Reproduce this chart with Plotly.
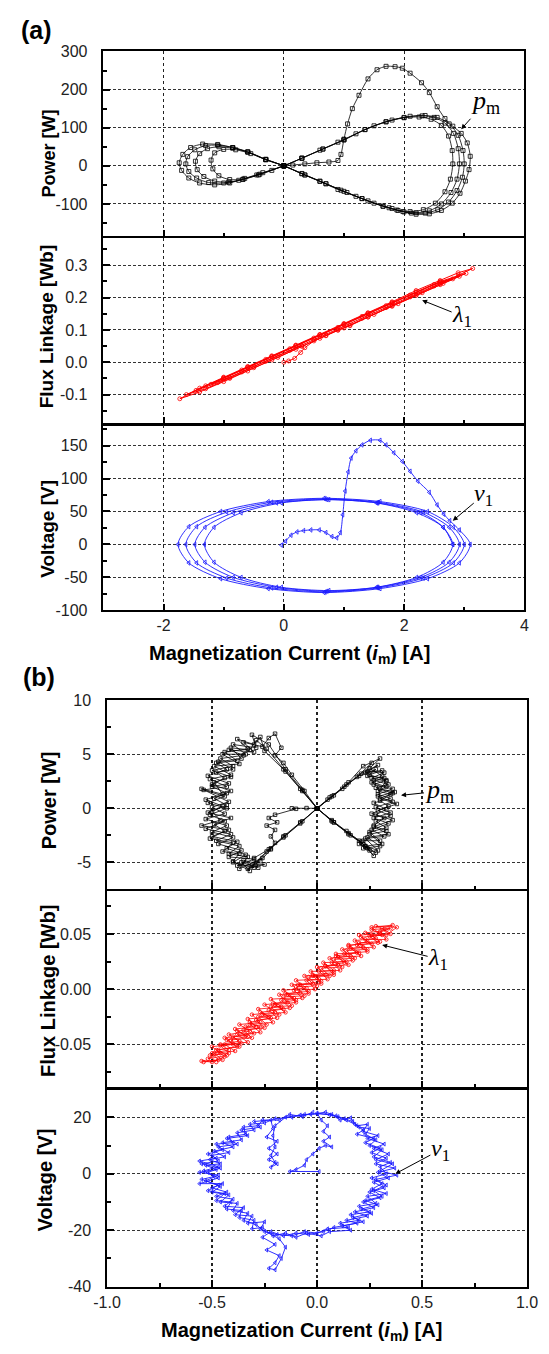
import plotly.graph_objects as go

# ---------------- (a) data : magnetization current i_m [A] vs ... ----------------
pa_pts = [
    (0, 0), (0.15, 2), (0.35, 5), (0.55, 8), (0.75, 10), (0.9, 14), (0.95, 30), (1.0, 70), (1.06, 110),
    (1.14, 150), (1.25, 185), (1.4, 228), (1.55, 252), (1.7, 261), (1.85, 260), (1.97, 256), (2.1, 243),
    (2.29, 218), (2.42, 192), (2.55, 155), (2.68, 124), (2.81, 104), (2.95, 85), (3.05, 60), (3.1, 25),
    (3.08, -10), (3.02, -40), (2.93, -72), (2.8, -98), (2.62, -117), (2.42, -126), (2.2, -127), (2.0, -121),
    (1.8, -112), (1.5, -98), (1.2, -80), (0.9, -62), (0.6, -41), (0.3, -21), (0, 0),
    (-0.3, 16), (-0.6, 36), (-0.85, 48), (-1.1, 56), (-1.35, 57), (-1.55, 48), (-1.68, 30), (-1.74, 8),
    (-1.7, -12), (-1.58, -32), (-1.4, -45), (-1.15, -50), (-0.9, -45), (-0.65, -33), (-0.35, -18), (0, 0),
    (0.3, 20), (0.6, 41), (0.9, 62), (1.2, 84), (1.5, 105), (1.8, 120), (2.1, 130), (2.35, 132), (2.55, 127),
    (2.75, 110), (2.9, 80), (2.98, 40), (3.0, 5),
    (2.97, -30), (2.88, -65), (2.74, -95), (2.56, -115), (2.35, -124), (2.12, -124), (1.9, -117), (1.65, -106),
    (1.3, -86), (1.0, -67), (0.7, -47), (0.35, -24), (0, 0),
    (-0.3, 17), (-0.6, 37), (-0.85, 48), (-1.1, 54), (-1.3, 53), (-1.48, 42), (-1.6, 24), (-1.63, 5),
    (-1.58, -15), (-1.45, -32), (-1.25, -44), (-1.0, -45), (-0.75, -38), (-0.45, -24), (0, 0),
    (0.3, 20), (0.65, 44), (1.0, 68), (1.35, 95), (1.7, 116), (2.0, 127), (2.3, 131), (2.5, 127), (2.68, 112),
    (2.82, 85), (2.9, 45), (2.92, 5),
    (2.88, -35), (2.78, -70), (2.62, -100), (2.42, -118), (2.2, -123), (1.98, -120), (1.75, -110),
    (1.4, -92), (1.05, -70), (0.7, -47), (0.35, -24), (0, 0),
    (-0.3, 17), (-0.6, 36), (-0.85, 46), (-1.08, 50), (-1.27, 45), (-1.4, 32), (-1.47, 12), (-1.44, -10),
    (-1.33, -28), (-1.15, -40), (-0.92, -43), (-0.68, -36), (-0.4, -22), (0, 0),
    (0.3, 20), (0.65, 44), (1.0, 68), (1.35, 95), (1.7, 115), (2.0, 126), (2.25, 128), (2.45, 122), (2.62, 106),
    (2.74, 78), (2.8, 40), (2.81, 5),
    (2.77, -35), (2.68, -68), (2.52, -98), (2.32, -115), (2.1, -120), (1.88, -116), (1.65, -106),
    (1.3, -86), (0.95, -64), (0.6, -40), (0.3, -20), (0, 0),
    (-0.3, 16), (-0.55, 32), (-0.8, 42), (-1.0, 43), (-1.15, 34), (-1.21, 15), (-1.18, -8), (-1.08, -26),
    (-0.9, -36), (-0.68, -35), (-0.42, -24), (-0.2, -12), (0, 0),
]

la_pts = [
    (0, 0), (0.08, 0.004), (0.18, 0.012), (0.28, 0.03), (0.35, 0.045), (0.5, 0.066), (0.7, 0.083), (0.9, 0.099),
    (1.1, 0.113), (1.4, 0.14), (1.8, 0.175), (2.2, 0.208), (2.6, 0.243), (2.9, 0.27), (3.14, 0.29),
    (2.9, 0.277), (2.6, 0.253), (2.2, 0.222), (1.8, 0.187), (1.4, 0.153), (1.0, 0.12), (0.6, 0.086), (0.2, 0.053),
    (-0.2, 0.02), (-0.6, -0.013), (-1.0, -0.046), (-1.4, -0.08), (-1.73, -0.113),
    (-1.4, -0.092), (-1.0, -0.06), (-0.6, -0.027), (-0.2, 0.007), (0.2, 0.04), (0.6, 0.074), (0.9, 0.1), (1.0, 0.106),
    (1.4, 0.14), (1.8, 0.173), (2.2, 0.207), (2.6, 0.24), (3.03, 0.275),
    (2.6, 0.25), (2.2, 0.218), (1.8, 0.185), (1.4, 0.152), (1.0, 0.118), (0.6, 0.085), (0.2, 0.052), (-0.2, 0.018),
    (-0.6, -0.015), (-1.0, -0.048), (-1.3, -0.073), (-1.62, -0.1),
    (-1.3, -0.082), (-0.9, -0.05), (-0.5, -0.017), (-0.1, 0.015), (0.3, 0.049), (0.7, 0.082), (1.1, 0.115),
    (1.5, 0.148), (1.9, 0.181), (2.3, 0.215), (2.65, 0.244), (2.92, 0.266),
    (2.6, 0.248), (2.2, 0.216), (1.8, 0.183), (1.4, 0.15), (1.0, 0.117), (0.6, 0.084), (0.2, 0.05), (-0.2, 0.017),
    (-0.6, -0.016), (-1.0, -0.049), (-1.46, -0.087),
    (-1.1, -0.063), (-0.7, -0.03), (-0.3, 0.003), (0.1, 0.037), (0.5, 0.07), (0.9, 0.103), (1.3, 0.136),
    (1.7, 0.169), (2.1, 0.202), (2.5, 0.236), (2.81, 0.258),
    (2.5, 0.241), (2.1, 0.208), (1.7, 0.175), (1.3, 0.142), (0.9, 0.108), (0.5, 0.075), (0.1, 0.042),
    (-0.3, 0.009), (-0.7, -0.024), (-1.0, -0.05), (-1.21, -0.068),
    (-0.9, -0.047), (-0.5, -0.013), (-0.1, 0.02), (0.3, 0.052),
]

va_pts = [
    (-0.04, -1), (0.03, 5), (0.12, 14), (0.22, 19), (0.33, 21), (0.45, 22), (0.59, 22), (0.7, 18), (0.8, 12),
    (0.88, 10), (0.94, 18), (0.98, 45), (1.02, 81), (1.07, 110), (1.12, 131), (1.2, 142), (1.3, 151),
    (1.44, 158), (1.6, 158), (1.7, 151), (1.83, 139), (1.97, 126), (2.1, 111), (2.23, 96), (2.42, 79),
    (2.55, 60), (2.66, 46), (2.76, 36), (2.92, 22), (3.10, 0),
    (2.92, -28), (2.39, -52), (1.60, -67), (0.67, -73), (-0.26, -67), (-1.05, -52), (-1.58, -28), (-1.76, 0),
    (-1.58, 27), (-1.05, 50), (-0.26, 65), (0.67, 70), (1.60, 65), (2.39, 50), (2.82, 26),
    (3.0, 0), (2.82, -28), (2.32, -51), (1.57, -66), (0.69, -72), (-0.2, -66), (-0.95, -51), (-1.45, -28),
    (-1.63, 0), (-1.45, 27), (-0.95, 49), (-0.2, 64), (0.69, 69), (1.57, 64), (2.32, 49), (2.75, 26),
    (2.92, 0), (2.75, -27), (2.28, -50), (1.56, -65), (0.72, -71), (-0.12, -65), (-0.84, -50), (-1.31, -27),
    (-1.48, 0), (-1.31, 26), (-0.84, 48), (-0.12, 63), (0.72, 68), (1.56, 63), (2.28, 48), (2.65, 26),
    (2.81, 0), (2.65, -27), (2.21, -50), (1.54, -65), (0.75, -70), (-0.04, -65), (-0.71, -50), (-1.16, -27),
    (-1.32, 0), (-1.16, 26), (-0.71, 48), (-0.04, 63), (0.75, 68), (1.54, 63), (2.21, 48), (2.65, 26), (2.81, 0),
]

# ---------------- (b) data ----------------
pb_pts = [
    (0, 0), (-0.05, 0.02), (-0.12, 0.0), (-0.1, -0.05), (-0.2, -0.6), (-0.23, -0.9), (-0.19, -1.3), (-0.24, -1.6),
    (-0.2, -2.0), (-0.22, -2.6), (-0.2, -3.2), (-0.22, -3.8),
    (-0.27, -4.9), (-0.33, -5.6), (-0.25, -5.2), (-0.38, -5.3), (-0.3, -4.7), (-0.42, -4.5), (-0.36, -3.9),
    (-0.47, -3.3), (-0.4, -2.7), (-0.5, -2.2), (-0.43, -1.6), (-0.53, -1.0), (-0.44, -0.5), (-0.5, 0.1),
    (-0.42, 0.6), (-0.55, 1.8), (-0.45, 1.3), (-0.49, 2.4), (-0.41, 2.9), (-0.5, 3.5), (-0.4, 3.9), (-0.46, 4.6),
    (-0.35, 4.9), (-0.42, 5.4), (-0.3, 5.2), (-0.35, 6.1), (-0.26, 5.7),
    (-0.23, 6.5), (-0.2, 6.9), (-0.17, 5.6), (-0.2, 4.9), (-0.16, 4.2),
    (-0.12, 3.1), (-0.06, 1.6), (0.0, 0.0), (0.07, -1.1), (0.14, -2.1), (0.2, -3.0),
    (0.24, -3.7), (0.2, -3.3), (0.29, -3.9), (0.23, -2.8), (0.32, -2.6), (0.26, -2.0), (0.34, -1.4), (0.27, -0.9),
    (0.35, -0.4), (0.28, 0.1), (0.36, 0.6), (0.29, 1.1), (0.37, 1.5), (0.3, 1.8), (0.33, 2.5), (0.26, 2.8),
    (0.32, 3.3), (0.24, 3.4), (0.29, 4.0), (0.21, 3.2),
    (0.14, 2.2), (0.07, 1.1), (0.0, 0.0), (-0.08, -1.3), (-0.16, -2.6), (-0.23, -3.8),
    (-0.3, -4.6), (-0.28, -5.5), (-0.36, -5.0), (-0.32, -5.8), (-0.4, -4.9), (-0.37, -4.2), (-0.45, -4.0),
    (-0.4, -3.2), (-0.51, -2.8), (-0.44, -2.1), (-0.49, -1.5), (-0.41, -0.9), (-0.52, -0.4), (-0.45, 0.2),
    (-0.53, 0.8), (-0.43, 1.4), (-0.5, 2.0), (-0.42, 2.3), (-0.52, 3.0), (-0.43, 3.6), (-0.48, 4.2), (-0.38, 4.4),
    (-0.44, 5.2), (-0.33, 5.5), (-0.38, 6.4), (-0.3, 5.9), (-0.27, 6.6), (-0.25, 5.3),
    (-0.16, 3.6), (-0.08, 1.8), (0.0, 0.0), (0.08, -1.3), (0.15, -2.4), (0.22, -3.3),
    (0.27, -4.4), (0.23, -3.5), (0.31, -3.3), (0.25, -2.4), (0.33, -2.1), (0.27, -1.6), (0.32, -0.9), (0.26, -0.5),
    (0.34, 0.2), (0.3, 0.7), (0.36, 1.4), (0.28, 1.9), (0.34, 2.2), (0.27, 2.6), (0.31, 3.0), (0.25, 3.7),
    (0.3, 4.6), (0.22, 3.9),
    (0.15, 2.4), (0.08, 1.2), (0.0, 0.0), (-0.07, -1.2), (-0.15, -2.5), (-0.22, -3.7),
    (-0.29, -5.1), (-0.35, -4.8), (-0.3, -5.5), (-0.4, -5.0), (-0.34, -4.3), (-0.43, -3.7), (-0.38, -3.1),
    (-0.5, -2.6), (-0.42, -2.0), (-0.55, -1.6), (-0.46, -1.1), (-0.5, -0.3), (-0.43, 0.3), (-0.49, 0.9),
    (-0.41, 1.6), (-0.5, 2.2), (-0.44, 2.8), (-0.48, 3.3), (-0.4, 3.6), (-0.47, 4.3), (-0.36, 4.6), (-0.41, 5.6),
    (-0.32, 5.4), (-0.29, 6.3), (-0.24, 5.5),
    (-0.15, 3.4), (-0.07, 1.6), (0.0, 0.0), (0.07, -1.2), (0.15, -2.3), (0.21, -3.1),
    (0.25, -3.9), (0.22, -3.0), (0.3, -3.0), (0.25, -2.2), (0.33, -1.8), (0.28, -1.2), (0.35, -0.7), (0.29, -0.2),
    (0.38, 0.4), (0.3, 0.9), (0.35, 1.3), (0.29, 1.6), (0.33, 2.0), (0.26, 2.4), (0.32, 2.8), (0.24, 3.0),
    (0.28, 3.6), (0.2, 3.0),
    (0.13, 2.0), (0.06, 1.0), (0.0, 0.0), (-0.08, -1.4), (-0.16, -2.7), (-0.24, -4.0),
    (-0.31, -5.3), (-0.26, -4.6), (-0.37, -5.6), (-0.33, -4.5), (-0.42, -4.2), (-0.37, -3.5), (-0.48, -3.0),
    (-0.41, -2.4), (-0.53, -1.9), (-0.44, -1.2), (-0.51, -0.6), (-0.43, 0.0), (-0.52, 0.5), (-0.44, 1.1),
    (-0.54, 1.7), (-0.43, 2.0), (-0.51, 2.7), (-0.41, 3.1), (-0.49, 3.9), (-0.37, 4.1), (-0.45, 5.0), (-0.34, 5.0),
    (-0.4, 5.9), (-0.29, 5.6), (-0.31, 6.8), (-0.23, 5.9),
    (-0.15, 3.6), (-0.07, 1.7), (0.0, 0.0), (0.08, -1.3), (0.16, -2.5), (0.23, -3.5),
    (0.28, -4.1), (0.22, -3.7), (0.3, -3.5), (0.24, -2.7), (0.34, -2.4), (0.27, -1.7), (0.36, -1.1), (0.28, -0.6),
    (0.33, -0.1), (0.27, 0.5), (0.35, 0.9), (0.29, 1.3), (0.36, 1.8), (0.27, 2.2), (0.33, 2.6), (0.25, 3.1),
    (0.31, 3.5), (0.23, 3.3), (0.26, 4.2), (0.19, 2.9),
    (0.12, 1.8), (0.05, 0.8), (0.0, 0.0),
]

lb_pts = [
    (-0.54, -0.066), (-0.47, -0.064), (-0.5, -0.058), (-0.42, -0.055), (-0.46, -0.05), (-0.37, -0.047),
    (-0.42, -0.041), (-0.32, -0.038), (-0.37, -0.032), (-0.27, -0.03), (-0.31, -0.023), (-0.2, -0.021),
    (-0.25, -0.014), (-0.14, -0.012), (-0.18, -0.005), (-0.08, -0.003), (-0.12, 0.004), (-0.02, 0.005),
    (-0.06, 0.012), (0.04, 0.013), (0.0, 0.02), (0.1, 0.022), (0.06, 0.028), (0.16, 0.03), (0.12, 0.036),
    (0.22, 0.038), (0.18, 0.044), (0.28, 0.046), (0.23, 0.051), (0.33, 0.053), (0.28, 0.057), (0.38, 0.056),
    (0.33, 0.049), (0.25, 0.048), (0.29, 0.042), (0.19, 0.04), (0.24, 0.034), (0.13, 0.032), (0.17, 0.026),
    (0.07, 0.024), (0.11, 0.017), (0.01, 0.016), (0.05, 0.009), (-0.05, 0.008), (-0.01, 0.0), (-0.11, -0.001),
    (-0.07, -0.008), (-0.17, -0.01), (-0.13, -0.017), (-0.23, -0.019), (-0.19, -0.026), (-0.29, -0.028),
    (-0.25, -0.035), (-0.35, -0.037), (-0.31, -0.044), (-0.41, -0.046), (-0.37, -0.052), (-0.47, -0.055),
    (-0.43, -0.06), (-0.52, -0.063),
    (-0.46, -0.058), (-0.5, -0.052), (-0.4, -0.05), (-0.44, -0.044), (-0.34, -0.042), (-0.39, -0.036),
    (-0.29, -0.034), (-0.33, -0.027), (-0.23, -0.025), (-0.28, -0.018), (-0.17, -0.016), (-0.22, -0.009),
    (-0.11, -0.008), (-0.16, -0.001), (-0.05, 0.001), (-0.1, 0.008), (0.01, 0.009), (-0.03, 0.016), (0.08, 0.017),
    (0.03, 0.024), (0.14, 0.025), (0.09, 0.032), (0.2, 0.033), (0.15, 0.04), (0.26, 0.041), (0.21, 0.047),
    (0.31, 0.049), (0.26, 0.054), (0.35, 0.055),
    (0.3, 0.052), (0.33, 0.045), (0.23, 0.045), (0.27, 0.038), (0.16, 0.037), (0.21, 0.03), (0.1, 0.029),
    (0.15, 0.022), (0.04, 0.021), (0.08, 0.013), (-0.02, 0.012), (0.02, 0.005), (-0.08, 0.004), (-0.04, -0.004),
    (-0.14, -0.005), (-0.1, -0.012), (-0.2, -0.014), (-0.15, -0.021), (-0.26, -0.023), (-0.21, -0.03),
    (-0.32, -0.032), (-0.27, -0.039), (-0.38, -0.041), (-0.33, -0.048), (-0.44, -0.05), (-0.39, -0.056),
    (-0.49, -0.058), (-0.45, -0.064), (-0.55, -0.065),
    (-0.5, -0.066), (-0.44, -0.061), (-0.48, -0.055), (-0.38, -0.052), (-0.43, -0.046), (-0.33, -0.043),
    (-0.38, -0.038), (-0.27, -0.035), (-0.32, -0.03), (-0.22, -0.026), (-0.27, -0.021), (-0.16, -0.018),
    (-0.21, -0.013), (-0.1, -0.01), (-0.15, -0.004), (-0.04, -0.002), (-0.09, 0.004), (0.02, 0.007),
    (-0.02, 0.013), (0.08, 0.015), (0.04, 0.021), (0.13, 0.024), (0.09, 0.03), (0.19, 0.033), (0.15, 0.039),
    (0.24, 0.043), (0.2, 0.049), (0.3, 0.05), (0.26, 0.056), (0.36, 0.058),
    (0.31, 0.055), (0.35, 0.05), (0.26, 0.049), (0.3, 0.043), (0.2, 0.042), (0.24, 0.036), (0.14, 0.035),
    (0.18, 0.028), (0.08, 0.027), (0.12, 0.02), (0.02, 0.019), (0.06, 0.012), (-0.04, 0.011), (0.0, 0.003),
    (-0.1, 0.002), (-0.06, -0.006), (-0.16, -0.007), (-0.12, -0.015), (-0.22, -0.016), (-0.18, -0.023),
    (-0.28, -0.025), (-0.24, -0.032), (-0.34, -0.034), (-0.3, -0.04), (-0.4, -0.043), (-0.36, -0.049),
    (-0.46, -0.051), (-0.42, -0.058), (-0.51, -0.06), (-0.48, -0.066),
]

vb_pts = [
    (0.01, 0.8), (-0.13, 0.8), (-0.1, 1.5), (-0.06, 3.0), (-0.05, 5.0), (-0.02, 7.0), (0.01, 9.0), (0.04, 10.0),
    (0.07, 9.5), (0.03, 11.5), (0.06, 13.0), (0.03, 15.0), (0.05, 17.0), (0.02, 19.0), (0.0, 21.5),
    (0.06, 20.8), (0.1, 20.2), (0.14, 19.0), (0.18, 17.5), (0.22, 15.5), (0.19, 14.0), (0.27, 12.5), (0.23, 11.0),
    (0.3, 9.0), (0.26, 7.5), (0.33, 5.5), (0.28, 3.5), (0.37, 2.0), (0.29, 0.5), (0.34, -1.5), (0.27, -3.0),
    (0.32, -5.0), (0.25, -6.5), (0.3, -8.5), (0.22, -10.0), (0.27, -12.0), (0.18, -13.5), (0.24, -15.0),
    (0.14, -16.5), (0.19, -17.5), (0.08, -19.0), (0.03, -20.5), (-0.04, -21.5), (-0.1, -21.0), (-0.16, -22.0),
    (-0.22, -20.5),
    (-0.26, -22.5), (-0.2, -25.0), (-0.24, -27.0), (-0.18, -29.0), (-0.2, -31.5), (-0.23, -33.5), (-0.2, -34.0),
    (-0.17, -30.0), (-0.15, -26.0), (-0.18, -23.0),
    (-0.27, -19.5), (-0.25, -17.0), (-0.33, -17.5), (-0.31, -15.0), (-0.39, -14.5), (-0.35, -12.0), (-0.44, -11.5),
    (-0.4, -9.0), (-0.48, -8.0), (-0.43, -6.5), (-0.5, -5.0), (-0.45, -3.5), (-0.56, -3.5), (-0.47, -1.5),
    (-0.52, 0.5), (-0.46, 2.0), (-0.55, 3.5), (-0.47, 4.5), (-0.5, 6.5), (-0.42, 7.5), (-0.47, 9.5), (-0.38, 10.5),
    (-0.43, 12.5), (-0.33, 13.5), (-0.36, 15.5), (-0.27, 16.5), (-0.3, 18.5), (-0.22, 19.0),
    (-0.21, 16.0), (-0.24, 13.0), (-0.19, 11.5), (-0.23, 9.0), (-0.19, 7.0), (-0.23, 5.0), (-0.19, 3.5),
    (-0.22, 2.3), (-0.2, 4.0), (-0.22, 6.5), (-0.2, 9.5), (-0.21, 13.5), (-0.2, 17.0),
    (-0.15, 20.0), (-0.08, 20.8), (-0.03, 21.0),
    (0.04, 21.8), (0.09, 20.5), (0.13, 19.5), (0.17, 18.5), (0.2, 16.5), (0.25, 16.0), (0.23, 14.0), (0.28, 12.0),
    (0.25, 10.0), (0.31, 8.5), (0.27, 6.0), (0.35, 4.0), (0.3, 2.5), (0.33, 0.0), (0.26, -1.5), (0.31, -3.5),
    (0.26, -5.5), (0.33, -7.0), (0.24, -8.0), (0.28, -10.5), (0.2, -11.5), (0.25, -13.5), (0.16, -14.5),
    (0.2, -16.5), (0.11, -17.5), (0.15, -19.0), (0.05, -19.5), (0.0, -21.0), (-0.06, -20.5), (-0.12, -22.0),
    (-0.19, -21.5), (-0.25, -20.5), (-0.29, -18.0), (-0.35, -16.5), (-0.33, -14.0), (-0.4, -13.0), (-0.38, -10.5),
    (-0.46, -10.0), (-0.42, -7.5), (-0.5, -6.5), (-0.46, -4.5), (-0.53, -2.5), (-0.47, -0.5), (-0.56, 0.5),
    (-0.48, 1.5), (-0.53, 3.0), (-0.46, 3.5), (-0.51, 5.0), (-0.44, 6.0), (-0.49, 8.0), (-0.4, 9.5), (-0.45, 11.0),
    (-0.36, 12.0), (-0.38, 14.5), (-0.3, 15.5), (-0.32, 17.5), (-0.25, 18.0), (-0.2, 19.5), (-0.12, 20.0),
    (-0.06, 21.0), (0.0, 21.2),
    (0.07, 21.0), (0.11, 19.0), (0.16, 19.8), (0.19, 17.0), (0.24, 17.5), (0.22, 15.0), (0.29, 13.5), (0.24, 12.5),
    (0.32, 10.5), (0.27, 9.0), (0.34, 7.0), (0.28, 5.0), (0.36, 3.5), (0.3, 1.0), (0.38, -0.5), (0.28, -2.0),
    (0.33, -4.0), (0.27, -6.0), (0.31, -8.0), (0.23, -9.5), (0.29, -11.0), (0.21, -12.5), (0.26, -14.0),
    (0.17, -15.5), (0.22, -17.0), (0.12, -18.5), (0.16, -20.0), (0.06, -20.5), (0.02, -22.0), (-0.05, -21.0),
    (-0.1, -22.5), (-0.15, -21.0), (-0.21, -22.0), (-0.26, -19.0), (-0.31, -19.5), (-0.3, -16.5), (-0.37, -15.5),
    (-0.36, -13.0), (-0.43, -12.5), (-0.41, -10.0), (-0.48, -9.5), (-0.44, -7.0), (-0.52, -6.0), (-0.47, -4.0),
    (-0.55, -2.0), (-0.49, -1.0), (-0.54, 1.0), (-0.47, 2.5), (-0.56, 4.5), (-0.48, 5.5), (-0.52, 7.0),
    (-0.45, 8.5), (-0.48, 10.5), (-0.4, 11.0), (-0.42, 13.0), (-0.34, 14.0), (-0.35, 16.5), (-0.28, 17.0),
    (-0.26, 19.0), (-0.18, 19.0), (-0.13, 21.0), (-0.07, 20.2), (-0.02, 21.8),
]

# ---------------- tick values / labels ----------------
xa_tickvals = [-2, 0, 2, 4]
xa_ticktext = ["-2", "0", "2", "4"]
xb_tickvals = [-1, -0.5, 0, 0.5, 1]
xb_ticktext = ["-1.0", "-0.5", "0.0", "0.5", "1.0"]
ya_p_vals = [-100, 0, 100, 200, 300]
ya_p_text = ["-100", "0", "100", "200", "300"]
ya_l_vals = [-0.1, 0.0, 0.1, 0.2, 0.3]
ya_l_text = ["-0.1", "0.0", "0.1", "0.2", "0.3"]
ya_v_vals = [-100, -50, 0, 50, 100, 150]
ya_v_text = ["-100", "-50", "0", "50", "100", "150"]
yb_p_vals = [-5, 0, 5, 10]
yb_p_text = ["-5", "0", "5", "10"]
yb_l_vals = [-0.05, 0.0, 0.05]
yb_l_text = ["-0.05", "0.00", "0.05"]
yb_v_vals = [-40, -20, 0, 20]
yb_v_text = ["-40", "-20", "0", "20"]


def unzip(pts):
    return [p[0] for p in pts], [p[1] for p in pts]


H = 1354.0
W = 549.0
SANS = "Liberation Sans, Arial, sans-serif"
SERIF = "Liberation Serif, Times New Roman, serif"
LW = 1.5

fig = go.Figure()


def add(pts, k, color, symbol, msize, lw, shape):
    x, y = unzip(pts)
    fig.add_trace(go.Scatter(
        x=x, y=y, mode="lines+markers",
        xaxis="x" if k == 1 else f"x{k}", yaxis="y" if k == 1 else f"y{k}",
        line=dict(color=color, width=lw, shape=shape, smoothing=0.8),
        marker=dict(symbol=symbol, size=msize, color=color, line=dict(color=color, width=0.8)),
        showlegend=False, hoverinfo="skip"))


add(pa_pts, 1, "#000000", "square-open", 4, 0.8, "spline")
add(la_pts, 2, "#ff0000", "circle-open", 4, 1.0, "linear")
add(va_pts, 3, "#1a1aff", "triangle-left-open", 4, 0.9, "spline")
add(pb_pts, 4, "#000000", "square-open", 3.5, 0.8, "linear")
add(lb_pts, 5, "#ff0000", "circle-open", 3.5, 0.8, "linear")
add(vb_pts, 6, "#1a1aff", "triangle-left-open", 3.5, 0.9, "linear")


def px2y(py):
    return 1 - py / H


h = LW / 2.0
dom_a_x = [93.7 / W, 534.7 / W]
dom_b_x = [97.5 / W, 537.5 / W]
ydoms = [
    [px2y(232 - h), px2y(44)],
    [px2y(421.7 - h), px2y(232 + h)],
    [px2y(610), px2y(421.7 + h)],
    [px2y(893.3 - h), px2y(701)],
    [px2y(1094 - h), px2y(893.3 + h)],
    [px2y(1295), px2y(1094 + h)],
]
xranges = [[-3, 4]] * 3 + [[-1, 1]] * 3
xminor = [1] * 3 + [0.25] * 3
yranges = [[-185, 300], [-0.19, 0.385], [-100, 181], [-7.5, 10], [-0.089, 0.089], [-40, 30]]
yminor = [50, 0.05, 25, 2.5, 0.025, 10]
yvals = [ya_p_vals, ya_l_vals, ya_v_vals, yb_p_vals, yb_l_vals, yb_v_vals]
ytexts = [ya_p_text, ya_l_text, ya_v_text, yb_p_text, yb_l_text, yb_v_text]

tickfont = dict(family=SANS, size=16, color="#222")
layout = dict(width=549, height=1354, margin=dict(l=0, r=0, t=0, b=0),
              paper_bgcolor="white", plot_bgcolor="white", showlegend=False)

for k in range(1, 7):
    xa = "xaxis" if k == 1 else f"xaxis{k}"
    ya = "yaxis" if k == 1 else f"yaxis{k}"
    grp_a = k <= 3
    layout[xa] = dict(
        domain=dom_a_x if grp_a else dom_b_x, range=xranges[k - 1],
        anchor="y" if k == 1 else f"y{k}",
        tickmode="array",
        tickvals=xa_tickvals if grp_a else xb_tickvals,
        ticktext=xa_ticktext if grp_a else xb_ticktext,
        showticklabels=(k in (3, 6)), tickfont=tickfont, ticklabelstandoff=0,
        ticks="inside", ticklen=7, tickwidth=1.5, tickcolor="black",
        minor=dict(ticks="inside", ticklen=4, tickwidth=1.5, tickcolor="black",
                   dtick=xminor[k - 1], tick0=0, showgrid=False),
        showline=True, linecolor="black", linewidth=LW, mirror=True,
        showgrid=True, gridcolor="#222", griddash="dot", gridwidth=1.2 if grp_a else 1.5,
        zeroline=False, fixedrange=True)
    layout[ya] = dict(
        domain=ydoms[k - 1], range=yranges[k - 1],
        anchor="x" if k == 1 else f"x{k}",
        tickmode="array", tickvals=yvals[k - 1], ticktext=ytexts[k - 1],
        tickfont=tickfont, ticklabelstandoff=11,
        ticks="inside", ticklen=7, tickwidth=1.5, tickcolor="black",
        minor=dict(ticks="inside", ticklen=4, tickwidth=1.5, tickcolor="black",
                   dtick=yminor[k - 1], tick0=0, showgrid=False),
        showline=True, linecolor="black", linewidth=LW, mirror=True,
        showgrid=True, gridcolor="#333", griddash="3px,2px", gridwidth=1,
        zeroline=False, fixedrange=True)

ann = []


def ptext(txt, px, py, size, family=SANS, angle=0, color="black"):
    ann.append(dict(text=txt, x=px / W, y=1 - py / H, xref="paper", yref="paper",
                    showarrow=False, xanchor="center", yanchor="middle", textangle=angle,
                    font=dict(family=family, size=size, color=color)))


ptext("<b>(a)</b>", 24, 22, 25)
ptext("<b>(b)</b>", 26, 677, 25)

ptext("<b>Power [W]</b>", 37, 147, 18, angle=-90)
ptext("<b>Flux Linkage [Wb]</b>", 35, 322, 19, angle=-90)
ptext("<b>Voltage [V]</b>", 35, 527, 19, angle=-90)
ptext("<b>Power [W]</b>", 37, 802, 20, angle=-90)
ptext("<b>Flux Linkage [Wb]</b>", 35, 995, 20, angle=-90)
ptext("<b>Voltage [V]</b>", 33, 1187, 20, angle=-90)

xt = "<b>Magnetization Current (<i>i</i><sub>m</sub>) [A]</b>"
ptext(xt, 289, 655, 20)
ptext(xt, 301, 1340, 20)


def label_arrow(txt, x, y, k, ax, ay, size):
    ann.append(dict(text=txt, x=x, y=y, xref="x" if k == 1 else f"x{k}", yref="y" if k == 1 else f"y{k}",
                    ax=ax, ay=ay, axref="pixel", ayref="pixel",
                    showarrow=True, arrowhead=2, arrowsize=1, arrowwidth=1,
                    arrowcolor="black", standoff=0, borderpad=0,
                    font=dict(family=SERIF, size=size, color="black")))


label_arrow("<i>p</i><sub>m</sub>", 2.95, 96, 1, 24, -27, 26)
label_arrow("<i>λ</i><sub>1</sub>", 2.30, 0.192, 2, 40, 16, 24)
label_arrow("<i>v</i><sub>1</sub>", 2.81, 36, 3, 31, -26, 24)
label_arrow("<i>p</i><sub>m</sub>", 0.40, 1.2, 4, 38, -4, 26)
label_arrow("<i>λ</i><sub>1</sub>", 0.31, 0.040, 5, 56, 14, 24)
label_arrow("<i>v</i><sub>1</sub>", 0.373, 0.0, 6, 45, -24, 24)

layout["annotations"] = ann
fig.update_layout(**layout)
fig.write_html("out.html")
